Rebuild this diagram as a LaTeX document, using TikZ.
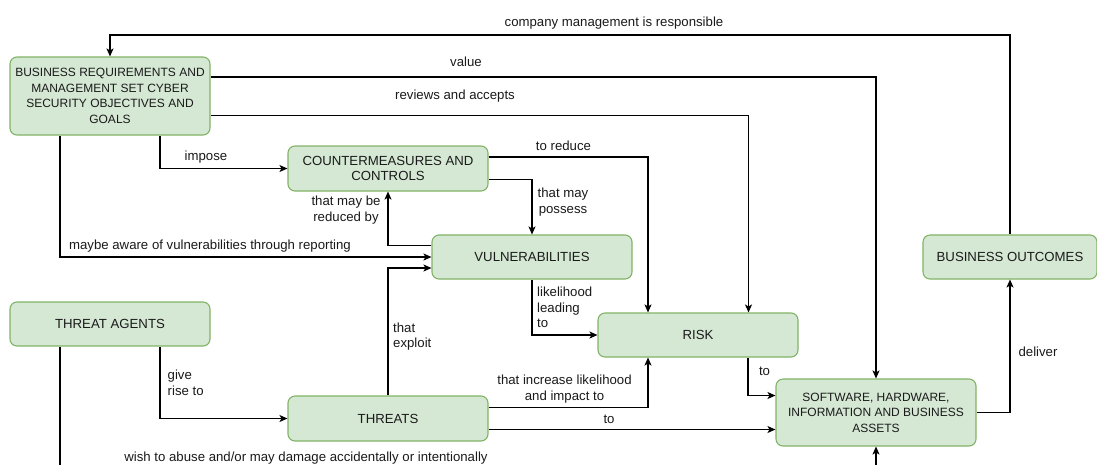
\documentclass[tikz,border=0pt]{standalone}
\usepackage{fontspec}
\setmainfont{Liberation Sans}
\usetikzlibrary{arrows.meta,calc}
\definecolor{boxfill}{HTML}{D5E8D4}
\definecolor{boxline}{HTML}{82B366}
\definecolor{ink}{HTML}{1A1A1A}
\begin{document}
\begin{tikzpicture}[x=1pt,y=-1pt,
  box/.style={draw=boxline, fill=boxfill, line width=1.1pt, rounded corners=7pt,
    minimum width=200pt, inner sep=0pt, align=center, text=ink,
    font=\fontsize{13.2}{15.5}\selectfont},
  smallbox/.style={box, font=\fontsize{12}{15.6}\selectfont},
  conn/.style={draw=black, line width=1.1pt, -{Stealth[length=8pt,width=7pt,inset=2pt]}},
  lbl/.style={text=ink, font=\fontsize{13.2}{15.5}\selectfont, inner sep=0pt, align=center},
  ]
\useasboundingbox (0,0) rectangle (1097,464);
\fill[white] (0,0) rectangle (1097,464);
\clip (0,0) rectangle (1097,464);

% boxes
\node[smallbox, minimum height=78pt] (br) at (110,96)
  {BUSINESS REQUIREMENTS AND\\MANAGEMENT SET CYBER\\SECURITY OBJECTIVES AND\\GOALS};
\node[box, minimum height=45pt] (cm) at (388,168.5) {COUNTERMEASURES AND\\CONTROLS};
\node[box, minimum height=44pt] (vul) at (532,257) {VULNERABILITIES};
\node[box, minimum height=44pt] (ta) at (110,324) {THREAT AGENTS};
\node[box, minimum height=45pt] (th) at (388,418.5) {THREATS};
\node[box, minimum height=44pt] (risk) at (698,335) {RISK};
\node[smallbox, minimum height=67pt] (sw) at (876,412.5)
  {SOFTWARE, HARDWARE,\\INFORMATION AND BUSINESS\\ASSETS};
\node[box, minimum height=44pt, minimum width=174pt] (bo) at (1010,257) {BUSINESS OUTCOMES};

% connectors
\coordinate (topy) at (0,35);
\draw[conn] (bo.north) |- (br.north |- topy) -- (br.north);
\draw[conn] ($(br.east)+(0,-19)$) -| (sw.north);
\draw[conn] ($(br.east)+(0,19.5)$) -| ($(risk.north)+(50.5,0)$);
\draw[conn] ($(br.south)+(50,0)$) |- (cm.west);
\draw[conn] ($(cm.east)+(0,-11.5)$) -| ($(risk.north)+(-50,0)$);
\draw[conn] ($(cm.east)+(0,11)$) -| (vul.north);
\draw[conn] ($(vul.west)+(0,-11.5)$) -| (cm.south);
\draw[conn] ($(br.south)+(-50,0)$) |- (vul.west);
\draw[conn] (th.north) |- ($(vul.west)+(0,11)$);
\draw[conn] (vul.south) |- (risk.west);
\draw[conn] ($(ta.south)+(50,0)$) |- (th.west);
\draw[conn] ($(th.east)+(0,-11)$) -| ($(risk.south)+(-50,0)$);
\coordinate (t2) at ($(th.east)+(0,11)$);
\draw[conn] (t2) -- (sw.west |- t2);
\draw[conn] ($(risk.south)+(50,0)$) |- ($(sw.west)+(0,-17)$);
\draw[conn] (sw.east) -| (bo.south);
\coordinate (low) at (0,490);
\draw[conn] ($(ta.south)+(-50,0)$) |- (sw.south |- low) -- (sw.south);

% connector labels
\node[lbl] (l1) at (614,23) {company management is responsible};
\node[lbl] (l2) at (466,62) {value};
\node[lbl] (l3) at (455,96) {reviews and accepts};
\node[lbl] (l4) at (206,157) {impose};
\node[lbl] (l5) at (563.5,146) {to reduce};
\node[lbl] (l6) at (563,202) {that may\\possess};
\node[lbl] (l7) at (346,210) {that may be\\reduced by};
\node[lbl] (l8) at (210,246) {maybe aware of vulnerabilities through reporting};
\node[lbl, align=left, anchor=west] (l9) at (537,307.7) {likelihood\\leading\\to};
\node[lbl, align=left, anchor=west] (l10) at (393,336.5) {that\\exploit};
\node[lbl, align=left, anchor=west] (l11) at (167.5,383) {give\\rise to};
\node[lbl] (l12) at (564.5,389) {that increase likelihood\\and impact to};
\node[lbl] (l13) at (609,419) {to};
\node[lbl] (l14) at (764.5,371.5) {to};
\node[lbl] (l15) at (1038,352) {deliver};
\node[lbl] (l16) at (306,458) {wish to abuse and/or may damage accidentally or intentionally};
\end{tikzpicture}
\end{document}
